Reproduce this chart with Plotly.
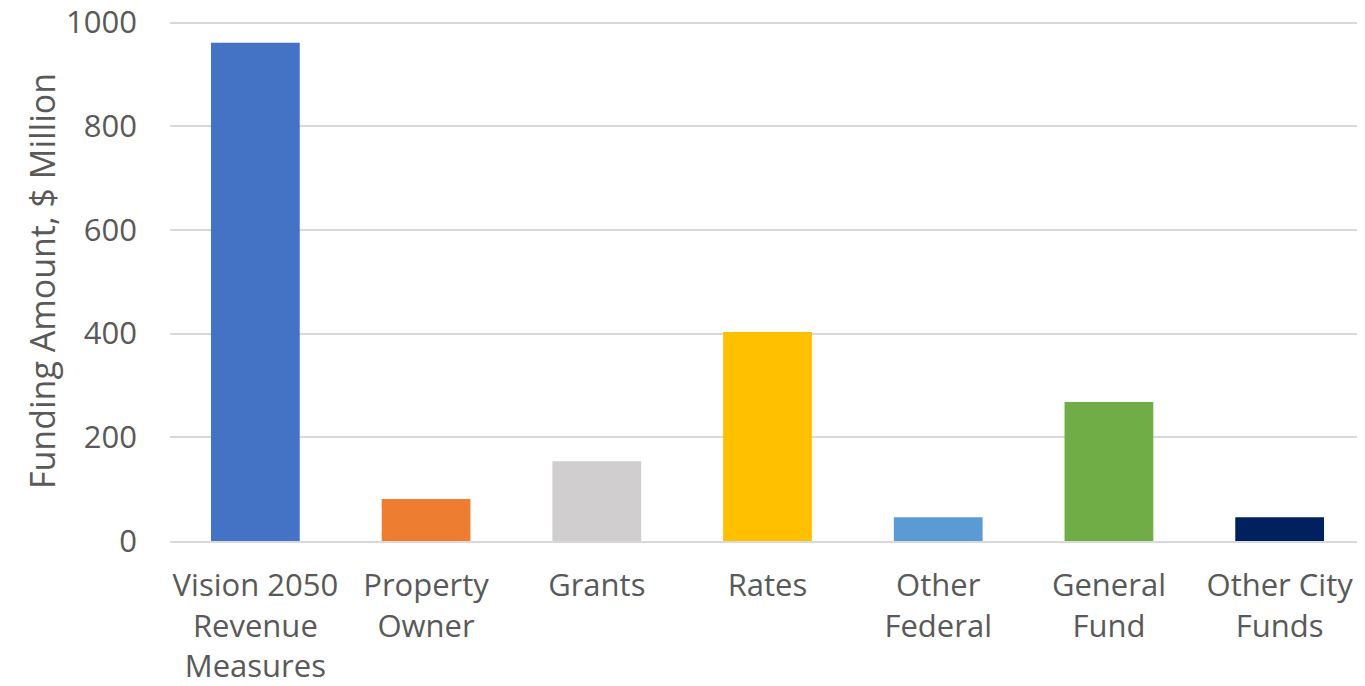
import plotly.graph_objects as go

categories = ["Vision 2050<br>Revenue<br>Measures", "Property<br>Owner", "Grants", "Rates",
              "Other<br>Federal", "General<br>Fund", "Other City<br>Funds"]
values = [961, 81, 154, 403, 46, 268, 46]
colors = ["#4472C4", "#ED7D31", "#D0CECE", "#FFC000", "#5B9BD5", "#70AD47", "#002060"]
y_ticks = [0, 200, 400, 600, 800, 1000]

fig = go.Figure(go.Bar(x=categories, y=values, marker=dict(color=colors, line=dict(width=0)),
                       hoverinfo="x+y"))

font = dict(family="Open Sans, Noto Sans, sans-serif", size=31, color="#595959")
fig.update_layout(
    width=1365, height=686,
    margin=dict(l=162, r=8, t=13, b=153),
    paper_bgcolor="white", plot_bgcolor="white",
    bargap=0.48, showlegend=False, font=font,
)
fig.update_yaxes(range=[0, 1003], tickvals=y_ticks, showgrid=True, gridcolor="#D9D9D9", gridwidth=2,
                 zeroline=False, showline=False, ticks="", ticklabelstandoff=32, automargin=False,
                 ticklabeloverflow="allow",
                 title=dict(text="Funding Amount, $ Million", font=dict(size=34, color="#595959"), standoff=0))
fig.update_xaxes(showline=True, linecolor="#D9D9D9", linewidth=2, ticks="", ticklabelstandoff=16,
                 tickangle=0, automargin=False, ticklabeloverflow="allow")

fig.write_html("out.html")
